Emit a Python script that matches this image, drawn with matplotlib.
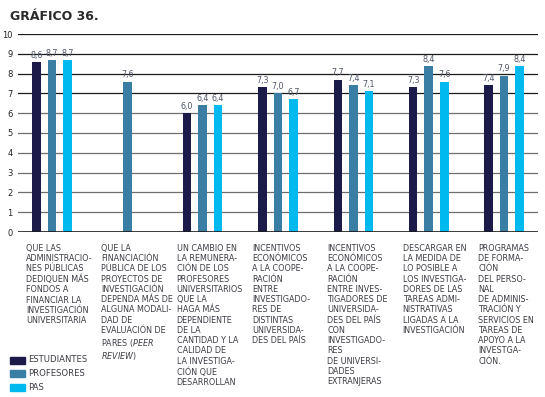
import matplotlib
matplotlib.use('Agg')
import numpy as np
import matplotlib.pyplot as plt
from matplotlib.patches import Rectangle

plt.rcParams['font.family'] = ['Liberation Sans Narrow', 'DejaVu Sans']
plt.rcParams['mathtext.fontset'] = 'custom'
plt.rcParams['mathtext.rm'] = 'Liberation Sans Narrow'
plt.rcParams['mathtext.it'] = 'Liberation Sans Narrow:italic'

categories = [
    "QUE LAS\nADMINISTRACIO-\nNES PÚBLICAS\nDEDIQUEN MÁS\nFONDOS A\nFINANCIAR LA\nINVESTIGACIÓN\nUNIVERSITARIA",
    "QUE LA\nFINANCIACIÓN\nPÚBLICA DE LOS\nPROYECTOS DE\nINVESTIGACIÓN\nDEPENDA MÁS DE\nALGUNA MODALI-\nDAD DE\nEVALUACIÓN DE\nPARES ($\\it{PEER}$\n$\\it{REVIEW}$)",
    "UN CAMBIO EN\nLA REMUNERA-\nCIÓN DE LOS\nPROFESORES\nUNIVERSITARIOS\nQUE LA\nHAGA MÁS\nDEPENDIENTE\nDE LA\nCANTIDAD Y LA\nCALIDAD DE\nLA INVESTIGA-\nCIÓN QUE\nDESARROLLAN",
    "INCENTIVOS\nECONÓMICOS\nA LA COOPE-\nRACIÓN\nENTRE\nINVESTIGADO-\nRES DE\nDISTINTAS\nUNIVERSIDA-\nDES DEL PAÍS",
    "INCENTIVOS\nECONÓMICOS\nA LA COOPE-\nRACIÓN\nENTRE INVES-\nTIGADORES DE\nUNIVERSIDA-\nDES DEL PAÍS\nCON\nINVESTIGADO-\nRES\nDE UNIVERSI-\nDADES\nEXTRANJERAS",
    "DESCARGAR EN\nLA MEDIDA DE\nLO POSIBLE A\nLOS INVESTIGA-\nDORES DE LAS\nTAREAS ADMI-\nNISTRATIVAS\nLIGADAS A LA\nINVESTIGACIÓN",
    "PROGRAMAS\nDE FORMA-\nCIÓN\nDEL PERSO-\nNAL\nDE ADMINIS-\nTRACIÓN Y\nSERVICIOS EN\nTAREAS DE\nAPOYO A LA\nINVESTGA-\nCIÓN.",
]

series_names = ["ESTUDIANTES", "PROFESORES", "PAS"]
estudiantes = [8.6, None, 6.0, 7.3, 7.7, 7.3, 7.4]
profesores = [8.7, 7.6, 6.4, 7.0, 7.4, 8.4, 7.9]
pas = [8.7, None, 6.4, 6.7, 7.1, 7.6, 8.4]

colors = ['#1c1a48', '#3a7fa3', '#00b9ee']

fig = plt.figure(figsize=(5.45, 3.97), dpi=100)
ax = fig.add_axes([18 / 545, 1 - 232 / 397, 520 / 545, 198 / 397])

x = np.arange(len(categories))
width = 0.113
offset = 0.206

for i, (vals, col) in enumerate(zip([estudiantes, profesores, pas], colors)):
    xs = [xi + (i - 1) * offset for xi, v in zip(x, vals) if v is not None]
    vs = [v for v in vals if v is not None]
    ax.bar(xs, vs, width=width, color=col, zorder=3)
    for xx, v in zip(xs, vs):
        ax.annotate(f"{v:.1f}".replace('.', ','), (xx, v), xytext=(0, 1.5),
                    textcoords='offset points', ha='center', va='bottom',
                    fontsize=5.8, color='#4f5666', zorder=4)

# grid lines: upper ones darker like in the original
for yv in range(1, 11):
    ax.axhline(yv, color='#1a1a1a' if yv >= 7 else '#6e6e6e', lw=0.9, zorder=1)
ax.axhline(0, color='#1a1a1a', lw=1.2, zorder=4)

ax.set_xlim(-0.45, 6.45)
ax.set_ylim(0, 10)
ax.set_yticks(range(0, 11))
ax.tick_params(axis='y', length=0, pad=4, labelsize=6, labelcolor='#222222')
ax.set_xticks([])
for s in ax.spines.values():
    s.set_visible(False)

for xi, label in zip(x, categories):
    ax.annotate(label, (xi - 0.345, 0), xycoords=('data', 'data'),
                xytext=(0, -8.5), textcoords='offset points',
                ha='left', va='top', fontsize=5.8, color='#3c3c44',
                linespacing=1.18)

fig.text(10 / 545, 1 - 16 / 397, "GRÁFICO 36.", fontsize=9, fontweight='bold',
         color='#2a2a2a', va='center', ha='left')

for i, (name, col) in enumerate(zip(series_names, colors)):
    yc = 1 - (360 + i * 13.5) / 397
    fig.patches.append(Rectangle((10 / 545, yc - 3.5 / 397), 15 / 545, 7 / 397,
                                 transform=fig.transFigure, color=col))
    fig.text(28 / 545, yc, name, fontsize=6.1, color='#3c3c44', va='center', ha='left')

fig.savefig('out.png', dpi=100)
